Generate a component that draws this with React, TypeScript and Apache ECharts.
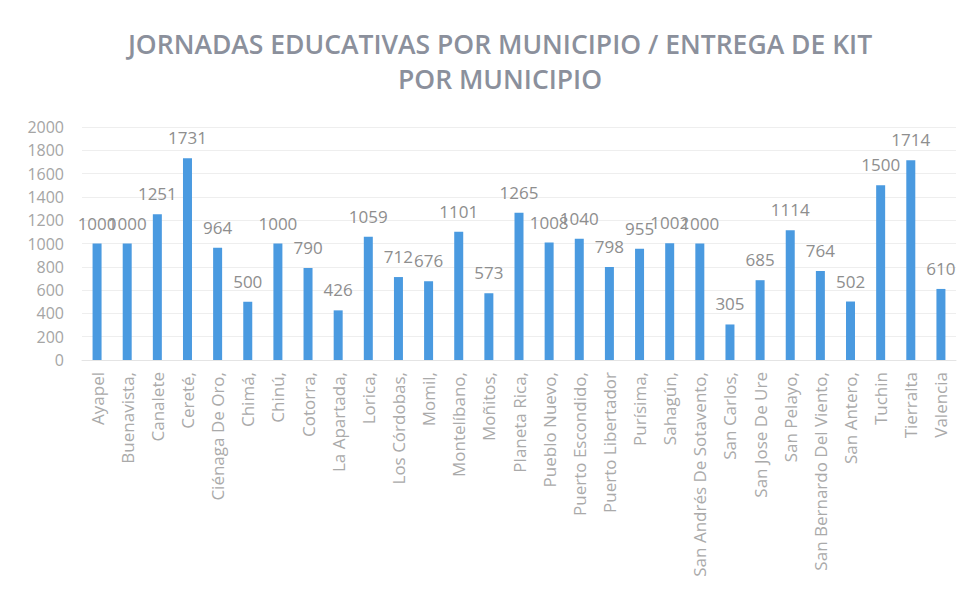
import React, { useEffect, useRef } from "react";
import * as echarts from "echarts";

const categories = [
  "Ayapel", "Buenavista,", "Canalete", "Cereté,", "Ciénaga De Oro,", "Chimá,", "Chinú,",
  "Cotorra,", "La Apartada,", "Lorica,", "Los Córdobas,", "Momil,", "Montelíbano,",
  "Moñitos,", "Planeta Rica,", "Pueblo Nuevo,", "Puerto Escondido,", "Puerto Libertador",
  "Purísima,", "Sahagún,", "San Andrés De Sotavento,", "San Carlos,", "San Jose De Ure",
  "San Pelayo,", "San Bernardo Del Viento,", "San Antero,", "Tuchin", "Tierralta", "Valencia",
];
const values = [
  1000, 1000, 1251, 1731, 964, 500, 1000, 790, 426, 1059, 712, 676, 1101, 573, 1265,
  1008, 1040, 798, 955, 1002, 1000, 305, 685, 1114, 764, 502, 1500, 1714, 610,
];
const titleText = "JORNADAS EDUCATIVAS POR MUNICIPIO / ENTREGA DE KIT\nPOR MUNICIPIO";

export default function App() {
  const ref = useRef<HTMLDivElement>(null);
  useEffect(() => {
    if (!ref.current) return;
    const chart = echarts.init(ref.current, null, { renderer: "svg" });
    chart.setOption({
      animation: false,
      backgroundColor: "#ffffff",
      title: {
        text: titleText,
        left: 495,
        textAlign: "center",
        top: 21,
        textStyle: {
          fontFamily: "Open Sans",
          fontWeight: 600,
          fontSize: 26.5,
          color: "#8b909c",
          lineHeight: 35,
        },
      },
      grid: { left: 82, right: 13, top: 127, bottom: 238, containLabel: false },
      xAxis: {
        type: "category",
        data: categories,
        axisLine: { show: true, lineStyle: { color: "#e4e4e4" } },
        axisTick: { show: false },
        axisLabel: {
          rotate: 90,
          interval: 0,
          color: "#aaaaaa",
          fontFamily: "Open Sans",
          fontSize: 17,
          margin: 12,
        },
      },
      yAxis: {
        type: "value",
        min: 0,
        max: 2000,
        interval: 200,
        axisLine: { show: false },
        axisTick: { show: false },
        splitLine: { lineStyle: { color: "#eeeeee" } },
        axisLabel: {
          color: "#a5a5a5",
          fontFamily: "Open Sans",
          fontSize: 16,
          margin: 18,
          formatter: (v: number) => String(v),
        },
      },
      series: [
        {
          type: "bar",
          data: values,
          barWidth: 9,
          itemStyle: { color: "#4a9ae0" },
          label: {
            show: true,
            position: "top",
            distance: 12,
            color: "#8e8e8e",
            fontFamily: "Open Sans",
            fontSize: 17,
          },
        },
      ],
    });
    return () => chart.dispose();
  }, []);
  return <div ref={ref} style={{ width: 969, height: 598, position: "absolute", left: 0, top: 0 }} />;
}
